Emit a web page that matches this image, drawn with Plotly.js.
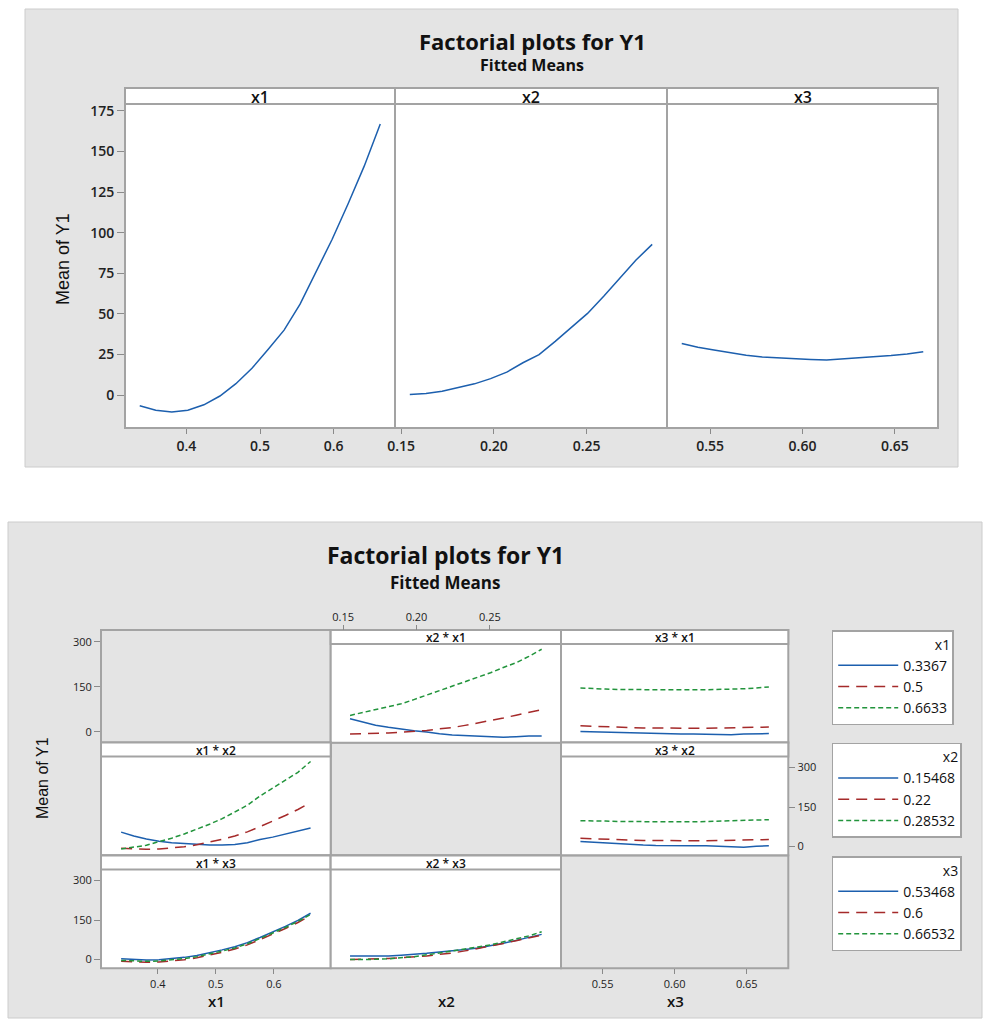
<!DOCTYPE html>
<html>
<head>
<meta charset="utf-8">
<script src="https://cdn.plot.ly/plotly-3.0.1.min.js"></script>
<style>html,body{margin:0;padding:0;background:#fff;}#chart{width:985px;height:1021px;}</style>
</head>
<body>
<div id="chart"></div>
<script>
// ---------- DATA ----------
const x1Grid = [0.3367,0.3585,0.3802,0.4020,0.4238,0.4456,0.4673,0.4891,0.5109,0.5327,0.5544,0.5762,0.5980,0.6198,0.6415,0.6633];
const x2Grid = [0.15468,0.16339,0.17210,0.18081,0.18952,0.19823,0.20694,0.21565,0.22435,0.23306,0.24177,0.25048,0.25919,0.26790,0.27661,0.28532];
const x3Grid = [0.53468,0.54339,0.55210,0.56081,0.56952,0.57823,0.58694,0.59565,0.60435,0.61306,0.62177,0.63048,0.63919,0.64790,0.65661,0.66532];

// main effects (fitted means)
const mainX1 = [-6.6,-9.3,-10.5,-9.4,-6.0,-0.6,7.0,16.5,28.0,40.0,56.0,76.0,96.0,118.0,141.0,167.0];
const mainX2 = [0.4,1.0,2.3,4.5,6.9,10.1,14.1,19.9,24.9,33.1,41.6,50.3,60.9,71.9,83.2,92.8];
const mainX3 = [31.8,29.5,27.7,26.0,24.5,23.4,22.8,22.3,21.9,21.6,22.2,23.0,23.5,24.3,25.3,26.7];

// level labels
const x1Levels = ['0.3367','0.5','0.6633'];
const x2Levels = ['0.15468','0.22','0.28532'];
const x3Levels = ['0.53468','0.6','0.66532'];

// interactions: Y vs x2 for x1 levels
const x2x1Low  = [58,46,34,26,19,13,8,1,-3,-5.5,-7,-9.5,-12,-10,-7,-7];
const x2x1Mid  = [0.4,1.0,2.3,4.5,6.9,10.1,14.1,19.9,24.9,33.1,41.6,50.3,60.9,71.9,83.2,92.8];
const x2x1High = [71,82,93,104,115,131,148,165,181,200,215,233,253,271,295,322];
// Y vs x3 for x1 levels
const x3x1Low  = [10,8.5,7,5.5,4,2.5,1.5,1,0.5,0,-1.5,-2,-2,0,1.5,2];
const x3x1Mid  = [31.8,29.5,27.7,26.0,24.5,23.4,22.8,22.3,21.9,21.6,22.2,23.0,23.5,24.3,25.3,26.7];
const x3x1High = [175,174,171,169,168.5,168.5,168.5,168.5,168.5,168.5,168.5,169,170,172,175,179];
// Y vs x1 for x2 levels
const x1x2Low  = [55,40,29,20,15,12,8,6.5,6.5,8,15,27,36,47,59,71];
const x1x2Mid  = [-6.6,-9.3,-10.5,-9.4,-6.0,-0.6,7.0,16.5,28.0,40.0,56.0,76.0,96.0,118.0,141.0,167.0];
const x1x2High = [-9,-3,5,19,32,48,66,85,106,130,157,192,222,250,282,323];
// Y vs x3 for x2 levels
const x3x2Low  = [19,16,12.5,10,8,6,4.5,3.5,3.5,3.5,3.5,2,-1,-2,1,3.5];
const x3x2Mid  = [31.8,29.5,27.7,26.0,24.5,23.4,22.8,22.3,21.9,21.6,22.2,23.0,23.5,24.3,25.3,26.7];
const x3x2High = [98,98,97,95,94.5,94.5,94.5,94.5,94.5,94.5,95,97,98,99,101,102];
// Y vs x1 for x3 levels
const x1x3Low  = [3.5,0.3,-1.2,-0.5,3,8.5,16,25.5,37,49,64.5,84,104,126,149,176];
const x1x3Mid  = [-6.6,-9.3,-10.5,-9.4,-6.0,-0.6,7.0,16.5,28.0,40.0,56.0,76.0,96.0,118.0,141.0,167.0];
const x1x3High = [-3,-5.5,-6.5,-5.3,-1.8,3.8,11.3,20.8,32.2,44.3,60,80.2,100,122,145,171.5];
// Y vs x2 for x3 levels
const x2x3Low  = [14,14,14,14,17,20,24,29,33,38,44,52,62,73,84,95.7];
const x2x3Mid  = [0.4,1.0,2.3,4.5,6.9,10.1,14.1,19.9,24.9,33.1,41.6,50.3,60.9,71.9,83.2,92.8];
const x2x3High = [0,0,1,3,7,11,18,25,32,40,48,56,67,78,90,106];

const topTicksY = [0,25,50,75,100,125,150,175];
const botTicksY = [0,150,300];
const ticksX1Top = [0.4,0.5,0.6];
const ticksX2 = [0.15,0.20,0.25];
const ticksX3 = [0.55,0.60,0.65];

// ---------- LAYOUT HELPERS ----------
const W = 985, H = 1021;
const fx = p => p / W;
const fy = p => 1 - p / H;
const FONT = 'Open Sans, Noto Sans, Liberation Sans, sans-serif';
const NARROW = 'Liberation Sans Narrow, Liberation Sans, Arial, sans-serif';
const BORDER = '#a3a3a3';
const BLUE = '#1c5fae', RED = '#a52a2a', GREEN = '#22943c';
const levelStyle = [
  {color: BLUE, dash: 'solid'},
  {color: RED, dash: '11px,7px'},
  {color: GREEN, dash: '5px,3px'}
];

const traces = [];
const layout = {
  width: W, height: H,
  margin: {l: 0, r: 0, t: 0, b: 0},
  paper_bgcolor: '#ffffff',
  plot_bgcolor: 'rgba(0,0,0,0)',
  font: {family: FONT, color: '#222'},
  shapes: [], annotations: [],
  showlegend: true
};

function hiddenAxis(extra) {
  return Object.assign({showgrid: false, zeroline: false, showline: false, ticks: '', showticklabels: false, fixedrange: true}, extra);
}
function rect(x0, y0, x1, y1, fill, lineColor, lw) {
  layout.shapes.push({type: 'rect', xref: 'paper', yref: 'paper', layer: 'below',
    x0: fx(x0), x1: fx(x1), y0: fy(y1), y1: fy(y0),
    fillcolor: fill, line: {color: lineColor, width: lw}});
}
function text(str, x, y, size, weight, extra) {
  layout.annotations.push(Object.assign({text: str, xref: 'paper', yref: 'paper', x: fx(x), y: fy(y),
    xanchor: 'center', yanchor: 'middle', showarrow: false,
    font: {family: FONT, size: size, weight: weight, color: '#111'}}, extra || {}));
}

// ---------- TOP CHART ----------
rect(25, 9, 958, 467, '#e4e4e4', '#cccccc', 1);
text('Factorial plots for Y1', 532, 41, 22, 700);
text('Fitted Means', 532, 65, 16, 700);
text('Mean of Y1', 63, 259, 18, 400, {textangle: -90, font: {family: NARROW, size: 18, color: '#111'}});

const topPanels = [
  {x0: 125, x1: 395, label: 'x1', xs: x1Grid, ys: mainX1, range: [0.3167, 0.6833], ticks: ticksX1Top, fmt: '.1f'},
  {x0: 395, x1: 667, label: 'x2', xs: x2Grid, ys: mainX2, range: [0.1467, 0.2933], ticks: ticksX2, fmt: '.2f'},
  {x0: 667, x1: 938, label: 'x3', xs: x3Grid, ys: mainX3, range: [0.5267, 0.6733], ticks: ticksX3, fmt: '.2f'}
];
const topStripTop = 88, topPlotTop = 104, topPlotBot = 428;
const topTickFont = {family: FONT, size: 14, weight: 600, color: '#222'};
topPanels.forEach((p, i) => {
  const n = i + 1;
  const sfx = n === 1 ? '' : String(n);
  rect(p.x0, topStripTop, p.x1, topPlotBot, '#ffffff', BORDER, 2);
  rect(p.x0, topStripTop, p.x1, topPlotTop, '#ffffff', BORDER, 2);
  text(p.label, (p.x0 + p.x1) / 2, 96.5, 16, 600);
  layout['xaxis' + sfx] = hiddenAxis({domain: [fx(p.x0), fx(p.x1)], range: p.range, anchor: 'y' + sfx,
    ticks: 'outside', ticklen: 5, tickwidth: 1, tickcolor: '#8a8a8a', showticklabels: true,
    tickmode: 'array', tickvals: p.ticks, tickformat: p.fmt, tickfont: topTickFont});
  const yax = hiddenAxis({domain: [fy(topPlotBot), fy(topPlotTop)], range: [-20.3, 179.3], anchor: 'x' + sfx});
  if (n === 1) Object.assign(yax, {ticks: 'outside', ticklen: 7, tickwidth: 1, tickcolor: '#8a8a8a', showticklabels: true,
    tickmode: 'array', tickvals: topTicksY, tickfont: topTickFont});
  layout['yaxis' + sfx] = yax;
  traces.push({type: 'scatter', mode: 'lines', x: p.xs, y: p.ys, xaxis: 'x' + sfx, yaxis: 'y' + sfx,
    line: {color: BLUE, width: 1.5}, showlegend: false, hoverinfo: 'x+y'});
});

// ---------- BOTTOM CHART ----------
rect(8, 522, 982, 1018, '#e4e4e4', '#cccccc', 1);
text('Factorial plots for Y1', 445, 555, 23, 700);
text('Fitted Means', 445, 582, 17, 700);
text('Mean of Y1', 42, 778, 16, 400, {textangle: -90, font: {family: NARROW, size: 16, color: '#111'}});
text('x1', 216, 1001, 15, 600);
text('x2', 446, 1001, 15, 600);
text('x3', 675, 1001, 15, 600);

const cols = [[101, 330.7], [330.7, 561], [561, 788.3]];
const rowsTop = [630, 742.5, 855.5];
const cellH = 112.8, stripH = 14;
const yRangeBot = [-33, 342];
const colRange = [[0.302, 0.698], [0.1415, 0.2985], [0.5212, 0.6788]];
const colGrid = [x1Grid, x2Grid, x3Grid];
const tickFontBot = {family: FONT, size: 11, color: '#222'};

// empty diagonal cells
[[0, 0], [1, 1], [2, 2]].forEach(([r, c]) => {
  rect(cols[c][0], rowsTop[r], cols[c][1], rowsTop[r] + cellH, 'rgba(0,0,0,0)', BORDER, 2);
});

// row-1 empty cell axis (ticks only)
layout.xaxis4 = hiddenAxis({domain: [fx(cols[0][0]), fx(cols[0][1])], range: colRange[0], anchor: 'y4'});
layout.yaxis4 = hiddenAxis({domain: [fy(rowsTop[0] + cellH), fy(rowsTop[0])], range: [-36.7, 339], anchor: 'x4',
  ticks: 'outside', ticklen: 6, tickcolor: '#8a8a8a', showticklabels: true, tickmode: 'array', tickvals: botTicksY, tickfont: tickFontBot});
traces.push({type: 'scatter', mode: 'lines', x: [], y: [], xaxis: 'x4', yaxis: 'y4', showlegend: false});

const panels = [
  {n: 5, r: 0, c: 1, label: 'x2 * x1', series: [x2x1Low, x2x1Mid, x2x1High], levels: x1Levels, legend: 'legend'},
  {n: 6, r: 0, c: 2, label: 'x3 * x1', series: [x3x1Low, x3x1Mid, x3x1High], levels: x1Levels, legend: 'legend'},
  {n: 7, r: 1, c: 0, label: 'x1 * x2', series: [x1x2Low, x1x2Mid, x1x2High], levels: x2Levels, legend: 'legend2'},
  {n: 8, r: 1, c: 2, label: 'x3 * x2', series: [x3x2Low, x3x2Mid, x3x2High], levels: x2Levels, legend: 'legend2'},
  {n: 9, r: 2, c: 0, label: 'x1 * x3', series: [x1x3Low, x1x3Mid, x1x3High], levels: x3Levels, legend: 'legend3'},
  {n: 10, r: 2, c: 1, label: 'x2 * x3', series: [x2x3Low, x2x3Mid, x2x3High], levels: x3Levels, legend: 'legend3'}
];
const legendShown = {};
panels.forEach(p => {
  const [cx0, cx1] = cols[p.c];
  const top = rowsTop[p.r], bot = top + cellH;
  rect(cx0, top, cx1, bot, '#ffffff', BORDER, 2);
  rect(cx0, top, cx1, top + stripH, '#ffffff', BORDER, 2);
  text(p.label, (cx0 + cx1) / 2, top + stripH / 2 + 0.5, 12, 600);
  const xa = hiddenAxis({domain: [fx(cx0), fx(cx1)], range: colRange[p.c], anchor: 'y' + p.n});
  const ya = hiddenAxis({domain: [fy(bot), fy(top + stripH)], range: yRangeBot, anchor: 'x' + p.n});
  if (p.n === 5) Object.assign(xa, {anchor: 'free', position: fy(630), side: 'top', ticks: 'outside', ticklen: 5,
    tickcolor: '#8a8a8a', showticklabels: true, tickmode: 'array', tickvals: ticksX2, tickformat: '.2f', tickfont: tickFontBot});
  if (p.n === 8) {
    Object.assign(xa, {anchor: 'free', position: fy(968.3), side: 'bottom', ticks: 'outside', ticklen: 5,
      tickcolor: '#8a8a8a', showticklabels: true, tickmode: 'array', tickvals: ticksX3, tickformat: '.2f', tickfont: tickFontBot});
    Object.assign(ya, {side: 'right', ticks: 'outside', ticklen: 6, tickcolor: '#8a8a8a', showticklabels: true,
      tickmode: 'array', tickvals: botTicksY, tickfont: tickFontBot});
  }
  if (p.n === 9) {
    Object.assign(xa, {ticks: 'outside', ticklen: 5, tickcolor: '#8a8a8a', showticklabels: true,
      tickmode: 'array', tickvals: ticksX1Top, tickformat: '.1f', tickfont: tickFontBot});
    Object.assign(ya, {ticks: 'outside', ticklen: 6, tickcolor: '#8a8a8a', showticklabels: true,
      tickmode: 'array', tickvals: botTicksY, tickfont: tickFontBot});
  }
  layout['xaxis' + p.n] = xa;
  layout['yaxis' + p.n] = ya;
  p.series.forEach((ys, k) => {
    const key = p.legend + k;
    const show = !legendShown[key];
    legendShown[key] = true;
    traces.push({type: 'scatter', mode: 'lines', x: colGrid[p.c], y: ys, xaxis: 'x' + p.n, yaxis: 'y' + p.n,
      name: p.levels[k], legend: p.legend, legendgroup: key, showlegend: show,
      line: {color: levelStyle[k].color, dash: levelStyle[k].dash, width: 1.5}});
  });
});

function legendCfg(title, top) {
  return {x: fx(831.7), y: fy(top), xanchor: 'left', yanchor: 'top',
    bgcolor: '#ffffff', bordercolor: BORDER, borderwidth: 1.5,
    font: {family: FONT, size: 14, color: '#111'}, traceorder: 'normal', itemclick: false, itemdoubleclick: false,
    itemwidth: 60, tracegroupgap: 0,
    title: {text: title, side: 'top right', font: {family: FONT, size: 14, color: '#111'}}};
}
layout.legend = legendCfg('x1', 630);
layout.legend2 = legendCfg('x2', 742.7);
layout.legend3 = legendCfg('x3', 856);

Plotly.newPlot('chart', traces, layout, {staticPlot: true, displayModeBar: false});
</script>
</body>
</html>
